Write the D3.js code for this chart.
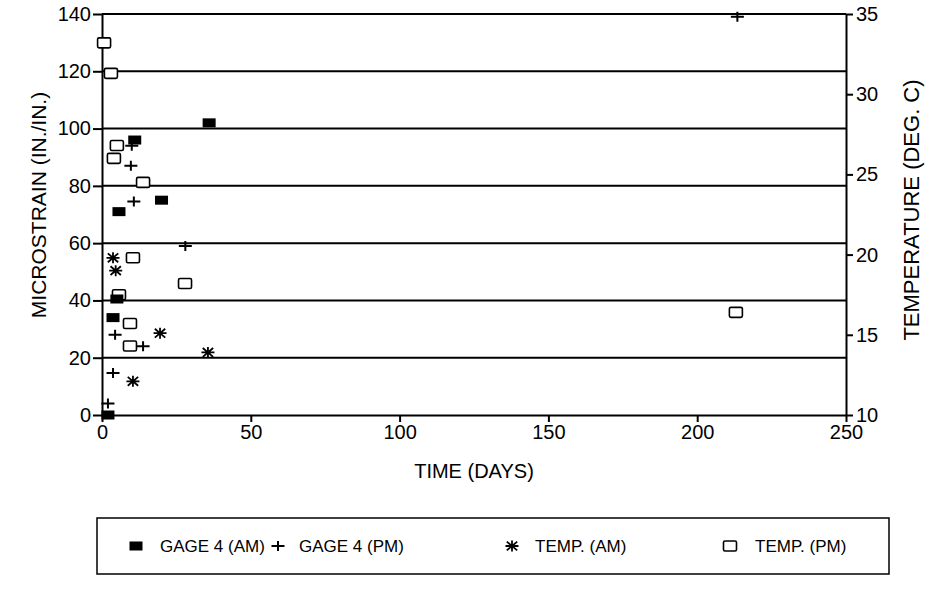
<!DOCTYPE html>
<html>
<head>
<meta charset="utf-8">
<script src="https://cdnjs.cloudflare.com/ajax/libs/d3/7.8.5/d3.min.js"></script>
<style>
  body { margin: 0; background: #fff; }
  text { font-family: "Liberation Sans", Arial, sans-serif; fill: #000; }
</style>
</head>
<body>
<script>
  // data
  var gageAmDays   = [2, 3.7, 5, 5.7, 11, 20, 36];
  var gageAmStrain = [0, 34, 40.5, 71, 96, 75, 102];

  var gagePmDays   = [2, 3.7, 4.4, 9.7, 10, 10.7, 13.8, 28, 213.5];
  var gagePmStrain = [4, 14.7, 28, 87, 94, 74.5, 24, 59, 139];

  var tempAmDays = [3.7, 4.6, 10.4, 19.5, 35.6];
  var tempAmDeg  = [19.8, 19.0, 12.1, 15.1, 13.9];

  var tempPmDays = [0.7, 3, 4, 5, 5.7, 9.4, 9.4, 10.4, 13.8, 27.9, 213];
  var tempPmDeg  = [33.2, 31.3, 26.0, 26.8, 17.5, 15.7, 14.3, 19.8, 24.5, 18.2, 16.4];

  var strainTicks = [0, 20, 40, 60, 80, 100, 120, 140];
  var tempTicks   = [10, 15, 20, 25, 30, 35];
  var dayTicks    = [0, 50, 100, 150, 200, 250];

  var legendNames = ["GAGE 4 (AM)", "GAGE 4 (PM)", "TEMP. (AM)", "TEMP. (PM)"];

  var W = 929, H = 592;
  var L = 102, R = 846, T = 14, B = 415;

  var svg = d3.select("body").append("svg")
    .attr("width", W).attr("height", H);

  var x  = d3.scaleLinear().domain([0, 250]).range([L, R]);
  var yL = d3.scaleLinear().domain([0, 140]).range([B, T]);
  var yR = d3.scaleLinear().domain([10, 35]).range([B, T]);

  // grid lines
  svg.append("g").selectAll("line")
    .data(strainTicks.filter(function(d) { return d > 0; }))
    .enter().append("line")
    .attr("x1", L).attr("x2", R)
    .attr("y1", function(d) { return yL(d); })
    .attr("y2", function(d) { return yL(d); })
    .attr("stroke", "#000").attr("stroke-width", 2);

  function styleAxis(g) {
    g.selectAll("path, line").attr("stroke", "#000").attr("stroke-width", 2);
    g.selectAll("text").attr("font-size", 20).attr("font-family", "Liberation Sans, Arial, sans-serif");
  }

  svg.append("g")
    .attr("transform", "translate(" + L + ",0)")
    .call(d3.axisLeft(yL).tickValues(strainTicks).tickSize(9).tickSizeOuter(0).tickPadding(2))
    .call(styleAxis);

  svg.append("g")
    .attr("transform", "translate(" + R + ",0)")
    .call(d3.axisRight(yR).tickValues(tempTicks).tickSize(7).tickSizeOuter(0).tickPadding(3))
    .call(styleAxis);

  svg.append("g")
    .attr("transform", "translate(0," + B + ")")
    .call(d3.axisBottom(x).tickValues(dayTicks).tickSize(7).tickSizeOuter(0).tickPadding(3))
    .call(styleAxis);

  // axis titles
  svg.append("text")
    .attr("transform", "translate(46,205) rotate(-90)")
    .attr("text-anchor", "middle").attr("font-size", 21)
    .text("MICROSTRAIN (IN./IN.)");

  svg.append("text")
    .attr("transform", "translate(919,210) rotate(-90)")
    .attr("text-anchor", "middle").attr("font-size", 22)
    .text("TEMPERATURE (DEG. C)");

  svg.append("text")
    .attr("x", 474).attr("y", 478)
    .attr("text-anchor", "middle").attr("font-size", 20)
    .text("TIME (DAYS)");

  // marker drawers
  function filledSquare(g, cx, cy) {
    g.append("rect").attr("x", cx - 6.5).attr("y", cy - 4.5)
      .attr("width", 13).attr("height", 9).attr("fill", "#000");
  }
  function plusMark(g, cx, cy) {
    g.append("path")
      .attr("d", "M" + (cx - 6.5) + "," + cy + "H" + (cx + 6.5) + "M" + cx + "," + (cy - 5) + "V" + (cy + 5))
      .attr("stroke", "#000").attr("stroke-width", 2).attr("fill", "none");
  }
  function starMark(g, cx, cy) {
    var a = 6.5, b = 5.5;
    g.append("path")
      .attr("d", "M" + (cx - a) + "," + cy + "H" + (cx + a) +
                 "M" + cx + "," + (cy - b) + "V" + (cy + b) +
                 "M" + (cx - a * 0.8) + "," + (cy - b * 0.8) + "L" + (cx + a * 0.8) + "," + (cy + b * 0.8) +
                 "M" + (cx - a * 0.8) + "," + (cy + b * 0.8) + "L" + (cx + a * 0.8) + "," + (cy - b * 0.8))
      .attr("stroke", "#000").attr("stroke-width", 1.8).attr("fill", "none");
  }
  function openSquare(g, cx, cy) {
    g.append("rect").attr("x", cx - 6.5).attr("y", cy - 5)
      .attr("width", 13).attr("height", 10).attr("rx", 1.5)
      .attr("fill", "#fff").attr("stroke", "#000").attr("stroke-width", 1.6);
  }

  var marks = svg.append("g");
  tempPmDays.forEach(function(d, i) { openSquare(marks, x(d), yR(tempPmDeg[i])); });
  tempAmDays.forEach(function(d, i) { starMark(marks, x(d), yR(tempAmDeg[i])); });
  gagePmDays.forEach(function(d, i) { plusMark(marks, x(d), yL(gagePmStrain[i])); });
  gageAmDays.forEach(function(d, i) { filledSquare(marks, x(d), yL(gageAmStrain[i])); });

  // legend
  var lg = svg.append("g");
  lg.append("rect").attr("x", 97).attr("y", 518).attr("width", 792).attr("height", 56)
    .attr("fill", "none").attr("stroke", "#000").attr("stroke-width", 1.5);

  var symX = [136, 278, 512, 730];
  var txtX = [160, 299, 535, 755];
  var drawers = [filledSquare, plusMark, starMark, openSquare];
  legendNames.forEach(function(name, i) {
    drawers[i](lg, symX[i], 546);
    lg.append("text").attr("x", txtX[i]).attr("y", 552)
      .attr("font-size", 17).text(name);
  });
</script>
</body>
</html>
